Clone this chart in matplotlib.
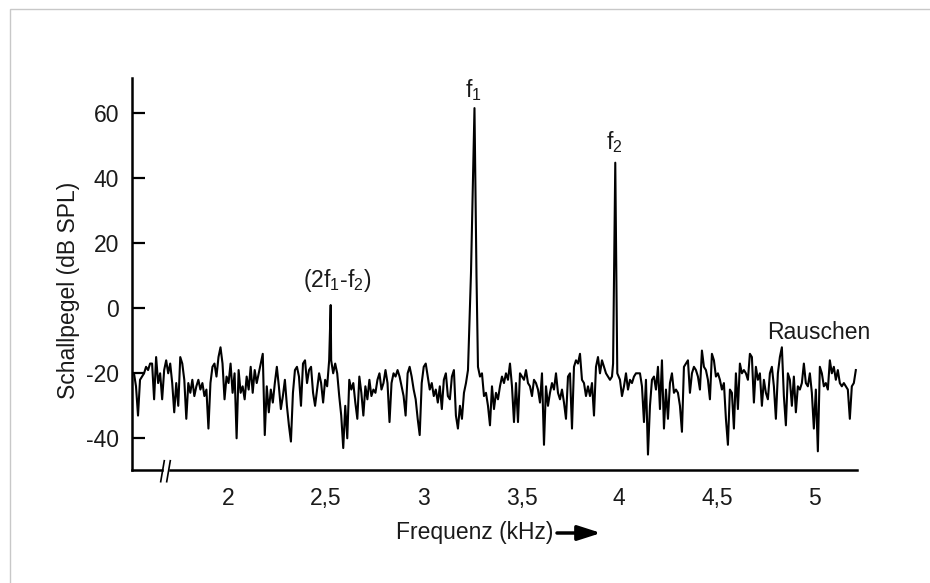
import numpy as np
import matplotlib
matplotlib.use("Agg")
import matplotlib.pyplot as plt
from matplotlib.patches import Rectangle
from matplotlib.lines import Line2D

plt.rcParams["font.family"] = ["Liberation Sans", "DejaVu Sans"]
plt.rcParams["mathtext.default"] = "regular"

# Noise floor of the spectrum (dB SPL), three stretches
# between the tone peaks. Sample spacing is uniform within each stretch.
noise_low_start, noise_low_end = 1.5176, 3.2261   # kHz
noise_low = [
    -20, -24, -33, -22, -21, -20, -18, -19, -17, -17,
    -28, -15, -23, -20, -28, -19, -16, -20, -17, -23,
    -32, -23, -30, -15, -17, -22, -34, -23, -26, -22,
    -27, -24, -22, -25, -23, -27, -25, -37, -23, -18,
    -17, -21, -15, -12, -17, -28, -21, -23, -17, -26,
    -20, -40, -19, -26, -24, -28, -21, -25, -18, -26,
    -19, -23, -20, -17, -14, -39, -24, -32, -25, -29,
    -23, -18, -24, -31, -27, -22, -30, -36, -41, -26,
    -19, -18, -21, -30, -17, -16, -23,
    -19, -18, -26, -30, -25, -20, -23, -29, -22, -24,
    -16, -16, -20, -17, -20, -27, -33, -43, -30, -40,
    -22, -25, -23, -29, -34, -21, -26, -33, -24, -28,
    -22, -27, -25, -26, -22, -20, -25, -23, -19, -23,
    -35, -23, -20, -21, -19, -21, -24, -27, -33, -20,
    -18, -21, -25, -28, -34, -39, -23, -18, -17, -21,
    -25, -23, -27, -25, -29, -24, -31, -22, -20, -27,
    -28, -21, -19, -33, -37, -30, -34, -26, -23, -19,
]

noise_mid_start, noise_mid_end = 3.2772, 3.9627
noise_mid = [
    -18, -21, -20, -27, -26, -30, -36, -24, -31, -26,
    -28, -24, -21, -23, -20, -22, -17, -24, -35, -23,
    -35, -20, -21, -22, -19, -23, -24, -27, -22, -23,
    -25, -29, -20, -42, -24, -30, -26, -23, -25, -20,
    -26, -28, -25, -29, -34, -21, -20, -37, -18, -16,
    -17, -14, -22, -23, -27, -24, -27, -23, -33, -18,
    -15, -20, -16, -18, -20, -21, -22, -21,
]

noise_high_start, noise_high_end = 4.0036, 5.2100
noise_high = [
    -22, -27, -24, -20, -25, -22, -23, -21, -20, -20,
    -20, -24, -35, -22, -45, -30, -22, -21, -25, -18,
    -31, -16, -37, -25, -34, -23,
    -20, -26, -25, -26, -30, -38, -18, -17, -16, -26,
    -20, -18, -19, -21, -25, -13, -18, -19, -22, -28,
    -14, -16, -21, -20, -22, -25, -23, -34, -42, -25,
    -26, -37, -20, -31, -17, -20, -19, -20, -22, -14,
    -15, -29, -18, -22, -20, -30, -22, -26, -28, -20,
    -18, -24, -34, -20, -15, -12, -27, -36, -20, -22,
    -30, -21, -32, -24, -25, -23, -17, -23, -24, -20,
    -26, -37, -25, -44, -18, -20, -24, -23, -25, -16,
    -20, -18, -22, -19, -23, -24, -23, -24, -25, -34,
    -24, -23, -19,
]

# Tone peaks: distortion product 2f1-f2, f1 and f2
peak_freq = [2.5238, 3.2415, 3.2593, 3.2696, 3.9683, 3.9795, 3.9898]
peak_level = [1.0, 11, 61.6, 10, -17, 44.8, -20]

# Labels
peak_labels = ["(2f$_1$-f$_2$)", "f$_1$", "f$_2$", "Rauschen"]
label_freq = [2.559, 3.2527, 3.976, 5.019]
label_level = [6.7, 64.9, 48.9, -9.4]

xticks = [2, 2.5, 3, 3.5, 4, 4.5, 5]
xtick_labels = ["2", "2,5", "3", "3,5", "4", "4,5", "5"]
yticks = [-40, -20, 0, 20, 40, 60]
ytick_labels = ["-40", "-20", "0", "20", "40", "60"]

W, H = 930, 583
fig = plt.figure(figsize=(W / 100, H / 100), dpi=100)
fig.patch.set_facecolor("white")

# thin grey frame at the top/left of the picture
fig.patches.append(Rectangle((9.5 / W, -0.1), 1.2, 1.1 - 9.5 / H,
                             transform=fig.transFigure, fill=False,
                             edgecolor="#c8c8c8", linewidth=1.0))

left, right, top, bottom = 131.7, 857, 78.3, 470
ax = fig.add_axes([left / W, 1 - bottom / H, (right - left) / W, (bottom - top) / H])

freq = np.concatenate([
    np.linspace(noise_low_start, noise_low_end, len(noise_low)),
    np.linspace(noise_mid_start, noise_mid_end, len(noise_mid)),
    np.linspace(noise_high_start, noise_high_end, len(noise_high)),
    peak_freq,
])
level = np.concatenate([noise_low, noise_mid, noise_high, peak_level]).astype(float)
order = np.argsort(freq)
ax.plot(freq[order], level[order], color="black", linewidth=1.5)

x0, x1 = 1.5059, 5.216
y0, y1 = -49.75, 70.77
ax.set_xlim(x0, x1)
ax.set_ylim(y0, y1)

for s in ["top", "right", "bottom"]:
    ax.spines[s].set_visible(False)
ax.spines["left"].set_linewidth(1.8)

# bottom axis line with a break mark
gap_a, gap_b = 1.6593, 1.7010
for xa, xb in [(x0, gap_a), (gap_b, x1)]:
    ax.add_line(Line2D([xa, xb], [y0, y0], color="black", linewidth=1.8,
                       clip_on=False, solid_capstyle="projecting"))
for xa, xb in [(1.6542, 1.6726), (1.6849, 1.7033)]:
    ax.add_line(Line2D([xa, xb], [-53.35, -46.9], color="black", linewidth=1.2,
                       clip_on=False))

ax.set_xticks(xticks)
ax.set_xticklabels(xtick_labels)
ax.set_yticks(yticks)
ax.set_yticklabels(ytick_labels)
ax.tick_params(axis="y", direction="in", length=9.4, width=1.6, pad=9.0,
               labelsize=16.5, labelcolor="#1a1a1a")
ax.tick_params(axis="x", length=0, pad=12.5, labelsize=16.5, labelcolor="#1a1a1a")

for txt, fx, fy in zip(peak_labels, label_freq, label_level):
    ax.text(fx, fy, txt, ha="center", va="baseline", fontsize=16.5, color="#1a1a1a")

fig.text(69 / W, 1 - 290 / H, "Schallpegel (dB SPL)", rotation=90,
         ha="center", va="center", fontsize=16.5, color="#1a1a1a")
fig.text(474.5 / W, 1 - 532 / H, "Frequenz (kHz)", ha="center", va="center",
         fontsize=16.5, color="#1a1a1a")
ax.annotate("", xy=(601 / W, 1 - 533 / H), xytext=(557 / W, 1 - 533 / H),
            xycoords="figure fraction", textcoords="figure fraction",
            arrowprops=dict(arrowstyle="-|>,head_length=1.4,head_width=0.45",
                            mutation_scale=10, linewidth=2.5, color="black",
                            shrinkA=0, shrinkB=0))

fig.savefig("out.png", dpi=100, facecolor="white")
